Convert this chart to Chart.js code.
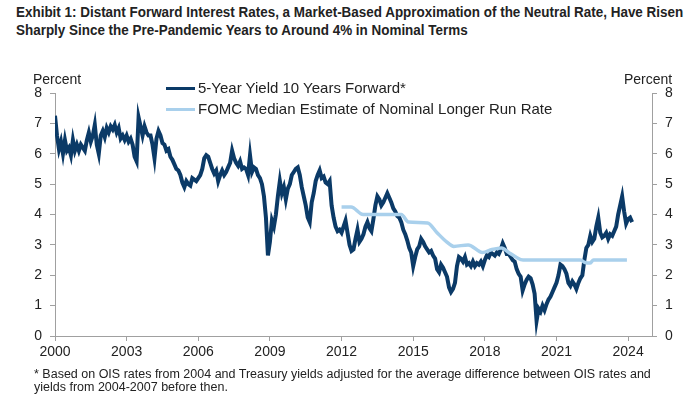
<!DOCTYPE html>
<html>
<head>
<meta charset="utf-8">
<script src="https://cdn.jsdelivr.net/npm/chart.js@4.4.1/dist/chart.umd.min.js"></script>
<style>
  html, body { margin: 0; padding: 0; background: #fff; }
  body { width: 700px; height: 394px; position: relative; overflow: hidden; font-family: Arial, "Liberation Sans", sans-serif; color: #222; }
  #wrap { position: absolute; left: 0; top: 0; width: 700px; height: 394px; }
  .title { position: absolute; left: 16px; top: 3px; font-family: "Liberation Sans Narrow", "Arial Narrow", Arial, "Liberation Sans", sans-serif; font-weight: bold; font-size: 14px; line-height: 18px; color: #222; white-space: nowrap; transform: scaleX(0.96); transform-origin: left top; }
  .unit { position: absolute; top: 71px; font-size: 14px; line-height: 16px; }
  .legend { position: absolute; left: 166px; top: 77px; font-size: 15px; line-height: 21px; white-space: nowrap; }
  .legend .sw { display: inline-block; width: 29px; height: 3px; vertical-align: middle; margin-right: 3px; position: relative; top: -1px; }
  .note { position: absolute; left: 34px; top: 368px; font-size: 12.5px; line-height: 13px; white-space: nowrap; }
</style>
</head>
<body>
<div class="title">Exhibit 1: Distant Forward Interest Rates, a Market-Based Approximation of the Neutral Rate, Have Risen<br>Sharply Since the Pre-Pandemic Years to Around 4% in Nominal Terms</div>
<div id="wrap"><canvas id="chart" width="700" height="394"></canvas></div>
<div class="unit" style="left:33px">Percent</div>
<div class="unit" style="left:624px">Percent</div>
<div class="legend">
  <div><span class="sw" style="background:#0b3a67"></span>5-Year Yield 10 Years Forward*</div>
  <div><span class="sw" style="background:#a9d0ec"></span>FOMC Median Estimate of Nominal Longer Run Rate</div>
</div>
<div class="note">* Based on OIS rates from 2004 and Treasury yields adjusted for the average difference between OIS rates and<br>yields from 2004-2007 before then.</div>
<script>
// monthly readings of the 5y5y forward, Jan 2000 onwards
const fwdStart = 2000;
const fwdValues = [
  7.25, 6.6, 6.15, 6.4, 6.0, 6.45, 6.1, 6.2, 5.95, 6.45, 6.1, 6.3,     // 2000
  6.1, 6.3, 6.2, 6.1, 6.45, 6.7, 6.4, 6.6, 6.95, 6.3, 6.0, 6.6,        // 2001
  6.75, 6.55, 6.85, 6.7, 6.9, 6.8, 6.95, 6.7, 6.85, 6.5, 6.6, 6.45,    // 2002
  6.6, 6.4, 6.5, 6.3, 5.9, 5.75, 7.2, 6.9, 6.6, 6.9, 6.7, 6.6,         // 2003
  6.6, 6.3, 5.85, 6.5, 6.75, 6.6, 6.35, 6.3, 6.1, 6.15, 5.9, 5.8,      // 2004
  5.65, 5.5, 5.45, 5.3, 5.05, 4.9, 5.1, 5.0, 4.95, 5.2, 5.15, 5.1,     // 2005
  5.2, 5.3, 5.5, 5.85, 5.95, 5.9, 5.7, 5.5, 5.35, 5.45, 5.1, 5.3,      // 2006
  5.45, 5.3, 5.4, 5.55, 5.7, 6.1, 5.85, 5.7, 5.6, 5.75, 5.5, 5.55,     // 2007
  5.5, 5.3, 5.95, 5.4, 5.55, 5.5, 5.3, 5.2, 5.0, 4.6, 3.9, 2.65,       // 2008
  3.1, 3.8, 3.6, 4.0, 4.6, 5.1, 4.7, 4.9, 4.5, 4.85, 5.0, 5.3,         // 2009
  5.4, 5.5, 5.55, 5.3, 4.9, 4.6, 4.3, 3.9, 3.75, 4.4, 4.7, 5.1,        // 2010
  5.3, 5.45, 5.2, 5.25, 5.05, 5.0, 5.1, 4.3, 3.9, 3.6, 3.45, 3.5,      // 2011
  3.4, 3.6, 3.8, 3.4, 3.0, 2.8, 2.85, 3.2, 3.5, 3.1, 3.2, 3.35,        // 2012
  3.6, 3.75, 3.55, 3.45, 3.85, 4.3, 4.6, 4.5, 4.3, 4.4, 4.55, 4.7,     // 2013
  4.55, 4.4, 4.2, 4.1, 3.95, 3.9, 3.75, 3.5, 3.35, 3.15, 2.9, 2.75,    // 2014
  2.3, 2.6, 2.85, 2.95, 3.2, 3.1, 2.95, 2.85, 2.75, 2.8, 2.65, 2.55,   // 2015
  2.2, 2.1, 2.35, 2.25, 2.1, 1.95, 1.6, 1.45, 1.55, 1.75, 2.3, 2.6,    // 2016
  2.55, 2.45, 2.6, 2.35, 2.4, 2.3, 2.45, 2.3, 2.4, 2.35, 2.45, 2.3,    // 2017
  2.5, 2.65, 2.6, 2.75, 2.7, 2.65, 2.75, 2.7, 2.85, 3.05, 2.9, 2.7,    // 2018
  2.7, 2.6, 2.5, 2.45, 2.2, 2.05, 1.95, 1.5, 1.7, 1.85, 1.95, 1.9,     // 2019
  1.7, 1.4, 0.5, 0.9, 0.8, 1.0, 0.85, 1.05, 1.2, 1.3, 1.45, 1.6,       // 2020
  1.75, 2.0, 2.35, 2.3, 2.2, 2.05, 1.75, 1.65, 1.8, 1.7, 1.55, 1.75,   // 2021
  1.9, 2.0, 2.5, 2.9, 3.0, 3.3, 3.1, 3.2, 3.6, 3.9, 3.4, 3.25,         // 2022
  3.3, 3.4, 3.2, 3.35, 3.3, 3.45, 3.6, 4.0, 4.3, 4.6, 4.1, 3.7,        // 2023
  3.85, 3.9, 3.75                                                      // 2024
];

// FOMC longer run median (SEP dates, values)
const fomcYears  = [2012.0, 2012.4, 2012.9, 2014.5, 2014.8, 2015.6, 2016.0, 2016.4, 2016.7, 2017.3, 2017.9, 2018.3, 2018.7, 2019.0, 2019.3, 2019.6, 2022.0, 2022.2, 2022.4, 2022.55, 2023.95];
const fomcValues = [4.25, 4.25, 4.0, 4.0, 3.75, 3.72, 3.4, 3.1, 2.95, 3.0, 2.75, 2.85, 2.9, 2.75, 2.6, 2.5, 2.5, 2.42, 2.4, 2.5, 2.5];

const xTicks = [2000, 2003, 2006, 2009, 2012, 2015, 2018, 2021, 2024];
const yTicks = [0, 1, 2, 3, 4, 5, 6, 7, 8];

const fwdData = fwdValues.map((v, i) => ({ x: fwdStart + i / 12, y: v }));
const fomcData = fomcYears.map((yr, i) => ({ x: yr, y: fomcValues[i] }));

const axisColor = '#a0a0a0';
const tickFont = { family: 'Arial, "Liberation Sans", sans-serif', size: 14 };

function yAxis(pos) {
    return {
        position: pos,
        min: 0,
        max: 8,
        afterBuildTicks: s => { s.ticks = yTicks.map(v => ({ value: v })); },
        afterFit: s => { s.width = pos === 'left' ? 55 : 48; },
        ticks: { color: '#222', font: tickFont, padding: 8 },
        grid: { drawOnChartArea: false, drawTicks: true, tickLength: 5, color: axisColor },
        border: { display: true, color: axisColor, width: 1 }
    };
}

const ctx = document.getElementById('chart').getContext('2d');
new Chart(ctx, {
    type: 'line',
    data: {
        datasets: [{
            label: '5-Year Yield 10 Years Forward*',
            data: fwdData,
            borderColor: '#0b3a67',
            borderWidth: 4,
            pointRadius: 0,
            tension: 0,
            order: 2,
            yAxisID: 'y'
        }, {
            label: 'FOMC Median Estimate of Nominal Longer Run Rate',
            data: fomcData,
            borderColor: '#a9d0ec',
            borderWidth: 3.5,
            pointRadius: 0,
            cubicInterpolationMode: 'monotone',
            order: 1,
            yAxisID: 'y'
        }]
    },
    options: {
        responsive: false,
        animation: false,
        layout: { padding: { top: 93, left: 0, right: 0, bottom: 0 } },
        plugins: {
            legend: { display: false },
            tooltip: { enabled: false }
        },
        scales: {
            x: {
                type: 'linear',
                min: 2000,
                max: 2025,
                afterBuildTicks: s => { s.ticks = xTicks.map(v => ({ value: v })); },
                afterFit: s => { s.height = 58; },
                ticks: { color: '#222', font: tickFont, padding: 3, maxRotation: 0, callback: v => String(v) },
                grid: { drawOnChartArea: false, drawTicks: true, tickLength: 5, color: axisColor },
                border: { display: true, color: axisColor, width: 1 }
            },
            y: yAxis('left'),
            y2: yAxis('right')
        }
    }
});
</script>
</body>
</html>
